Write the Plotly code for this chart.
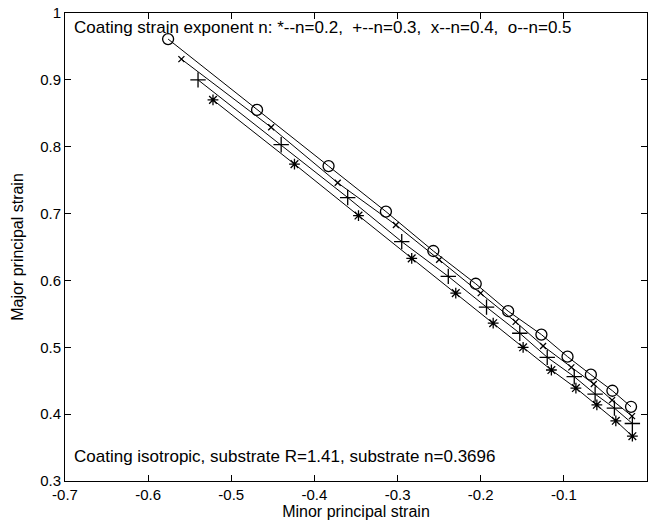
import plotly.graph_objects as go

# Minor principal strain (x) and major principal strain (y) for each coating exponent
x_n02 = [-0.522, -0.424, -0.347, -0.283, -0.230, -0.185, -0.149, -0.115, -0.0855, -0.0603, -0.0375, -0.0176]
y_n02 = [0.870, 0.774, 0.697, 0.633, 0.581, 0.536, 0.500, 0.466, 0.439, 0.414, 0.390, 0.367]

x_n03 = [-0.540, -0.440, -0.360, -0.295, -0.239, -0.193, -0.153, -0.120, -0.0875, -0.0624, -0.0392, -0.0176]
y_n03 = [0.900, 0.803, 0.724, 0.658, 0.606, 0.560, 0.521, 0.485, 0.456, 0.430, 0.409, 0.386]

x_n04 = [-0.560, -0.452, -0.372, -0.302, -0.250, -0.200, -0.158, -0.125, -0.091, -0.064, -0.042, -0.018]
y_n04 = [0.931, 0.829, 0.746, 0.683, 0.631, 0.581, 0.538, 0.502, 0.470, 0.445, 0.421, 0.397]

x_n05 = [-0.576, -0.469, -0.383, -0.314, -0.257, -0.206, -0.167, -0.127, -0.0956, -0.0675, -0.0416, -0.0192]
y_n05 = [0.961, 0.855, 0.771, 0.703, 0.644, 0.595, 0.554, 0.519, 0.486, 0.459, 0.435, 0.411]

x_ticks = [-0.7, -0.6, -0.5, -0.4, -0.3, -0.2, -0.1, 0]
x_tick_labels = ["-0.7", "-0.6", "-0.5", "-0.4", "-0.3", "-0.2", "-0.1", "0"]
y_ticks = [0.3, 0.4, 0.5, 0.6, 0.7, 0.8, 0.9, 1.0]
y_tick_labels = ["0.3", "0.4", "0.5", "0.6", "0.7", "0.8", "0.9", "1"]

top_text = "Coating strain exponent n: *--n=0.2,  +--n=0.3,  x--n=0.4,  o--n=0.5"
bottom_text = "Coating isotropic, substrate R=1.41, substrate n=0.3696"

FONT = "Liberation Sans, Arial, sans-serif"

series = [
    (x_n02, y_n02, "asterisk-open", 9, "n=0.2"),
    (x_n03, y_n03, "cross-thin-open", 11, "n=0.3"),
    (x_n04, y_n04, "x-thin-open", 6, "n=0.4"),
    (x_n05, y_n05, "circle-open", 11, "n=0.5"),
]

fig = go.Figure()
for xs, ys, sym, sz, name in series:
    fig.add_trace(go.Scatter(
        x=xs, y=ys, mode="lines+markers", name=name,
        line=dict(color="black", width=1),
        marker=dict(symbol=sym, size=sz, color="black",
                    line=dict(color="black", width=1.3)),
        showlegend=False,
    ))

fig.add_annotation(x=-0.692, y=0.978, xref="x", yref="y", text=top_text,
                   showarrow=False, xanchor="left", yanchor="middle",
                   font=dict(family=FONT, size=17, color="black"))
fig.add_annotation(x=-0.692, y=0.336, xref="x", yref="y", text=bottom_text,
                   showarrow=False, xanchor="left", yanchor="middle",
                   font=dict(family=FONT, size=17, color="black"))

fig.update_layout(
    width=651, height=525,
    margin=dict(l=65, r=4, t=13, b=44),
    paper_bgcolor="white", plot_bgcolor="white",
    font=dict(family=FONT, size=15, color="black"),
)
fig.update_xaxes(
    range=[-0.7, 0], tickvals=x_ticks, ticktext=x_tick_labels,
    ticks="inside", ticklen=6, tickcolor="black", tickwidth=1,
    tickfont=dict(size=15),
    showline=True, linecolor="black", linewidth=1, mirror="ticks",
    showgrid=False, zeroline=False, automargin=False,
    title=dict(text="Minor principal strain", standoff=2, font=dict(size=16)),
)
fig.update_yaxes(
    range=[0.3, 1.0], tickvals=y_ticks, ticktext=y_tick_labels,
    ticks="inside", ticklen=6, tickcolor="black", tickwidth=1,
    tickfont=dict(size=15),
    showline=True, linecolor="black", linewidth=1, mirror="ticks",
    showgrid=False, zeroline=False, automargin=False,
    title=dict(text="Major principal strain", standoff=12, font=dict(size=16)),
)

fig.write_html("out.html")
